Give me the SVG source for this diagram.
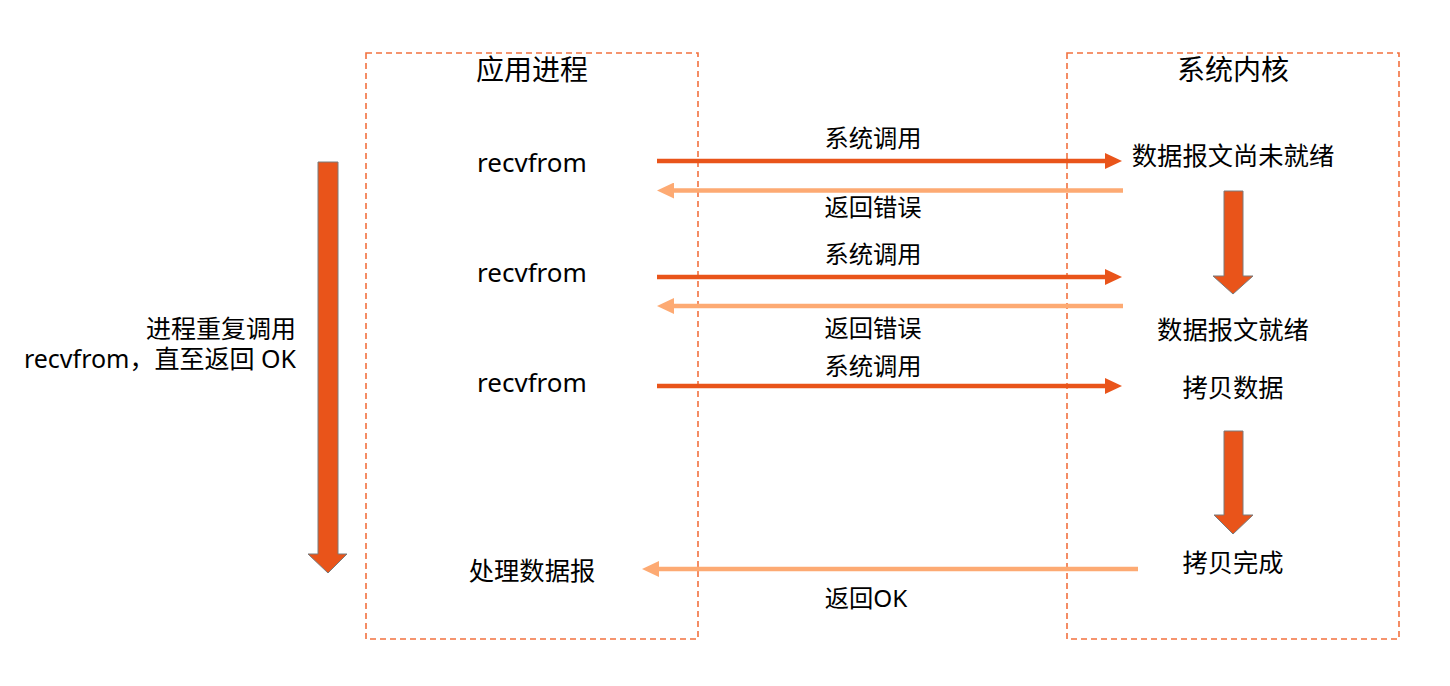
<svg xmlns="http://www.w3.org/2000/svg" width="1450" height="686" viewBox="0 0 1450 686">
<defs>
<style>
text{font-family:"Noto Sans","Noto Sans CJK SC",sans-serif;fill:#000;}
.t{font-size:28px;text-anchor:middle;}
.n{font-size:25.3px;text-anchor:middle;}
.r{font-size:26px;text-anchor:middle;}
.lbl{font-size:24.3px;text-anchor:middle;}
.box{fill:none;stroke:#F2713F;stroke-width:1.6;stroke-dasharray:6 4;}
.big{fill:#E9541A;stroke:#7a7a7a;stroke-width:1;}
.call{stroke:#E9541A;stroke-width:4.5;fill:none;}
.ret{stroke:#FDAA73;stroke-width:4.5;fill:none;}
</style>
<marker id="ha" viewBox="0 0 17 16" refX="11" refY="8" markerWidth="17" markerHeight="16" markerUnits="userSpaceOnUse" orient="auto">
<path d="M0,0 L17,8 L0,16 Z" fill="#E9541A"/>
</marker>
<marker id="hr" viewBox="0 0 17 16" refX="11" refY="8" markerWidth="17" markerHeight="16" markerUnits="userSpaceOnUse" orient="auto">
<path d="M0,0 L17,8 L0,16 Z" fill="#FDAA73"/>
</marker>
</defs>
<rect width="1450" height="686" fill="#fff"/>

<g id="app-process">
<rect class="box" x="366" y="53" width="332" height="586"/>
<text class="t" x="532" y="80">应用进程</text>
</g>
<g id="kernel">
<rect class="box" x="1067" y="53" width="332" height="586"/>
<text class="t" x="1233" y="80">系统内核</text>
</g>

<g id="loop">
<path class="big" d="M318,162 H338 V554 H347 L328,573 L308,554 H318 Z"/>
<text font-size="25" text-anchor="end" x="296" y="338">进程重复调用</text>
<text font-size="25" text-anchor="end" x="296" y="368">recvfrom，直至返回 OK</text>
</g>

<g id="recv1"><text class="r" x="532" y="172">recvfrom</text></g>
<g id="recv2"><text class="r" x="532" y="282">recvfrom</text></g>
<g id="recv3"><text class="r" x="532" y="392">recvfrom</text></g>
<g id="process"><text class="n" x="532" y="580">处理数据报</text></g>

<g id="not-ready"><text class="n" x="1233" y="165">数据报文尚未就绪</text></g>
<g id="ready"><text class="n" x="1233" y="339">数据报文就绪</text></g>
<g id="copy"><text class="n" x="1233" y="397">拷贝数据</text></g>
<g id="copy-done"><text class="n" x="1233" y="572">拷贝完成</text></g>

<g id="wait1"><path class="big" d="M1224,191 H1243 V276 H1253 L1233,294 L1213,276 H1224 Z"/></g>
<g id="wait2"><path class="big" d="M1224,431 H1243 V515 H1253 L1233,534 L1214,515 H1224 Z"/></g>

<g id="connectors">
<line class="call" x1="657" y1="161" x2="1116" y2="161" marker-end="url(#ha)"/>
<line class="ret" x1="1123" y1="190.5" x2="663" y2="190.5" marker-end="url(#hr)"/>
<line class="call" x1="657" y1="277" x2="1116" y2="277" marker-end="url(#ha)"/>
<line class="ret" x1="1123" y1="306" x2="663" y2="306" marker-end="url(#hr)"/>
<line class="call" x1="657" y1="386" x2="1116" y2="386" marker-end="url(#ha)"/>
<line class="ret" x1="1138" y1="569" x2="648" y2="569" marker-end="url(#hr)"/>
<text class="lbl" x="873" y="147">系统调用</text>
<text class="lbl" x="873" y="216">返回错误</text>
<text class="lbl" x="873" y="263">系统调用</text>
<text class="lbl" x="873" y="337">返回错误</text>
<text class="lbl" x="873" y="375">系统调用</text>
<text class="lbl" x="866" y="607">返回OK</text>
</g>
</svg>
